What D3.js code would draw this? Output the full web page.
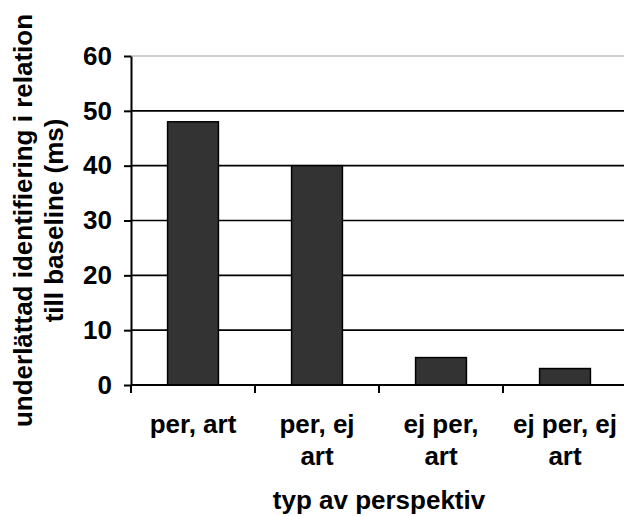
<!DOCTYPE html>
<html>
<head>
<meta charset="utf-8">
<script src="https://cdn.jsdelivr.net/npm/d3@7"></script>
<style>
  body { margin: 0; background: #fff; }
  svg { display: block; font-family: Arial, "Liberation Sans", sans-serif; }
</style>
</head>
<body>
<div id="chart"></div>
<script>
// données
const categories = ["per, art", "per, ej art", "ej per, art", "ej per, ej art"];
const categoryLines = [["per, art"], ["per, ej", "art"], ["ej per,", "art"], ["ej per, ej", "art"]];
const values = [48, 40, 5, 3];
const yTicks = [0, 10, 20, 30, 40, 50, 60];
const yTitle = ["underlättad identifiering i relation", "till baseline (ms)"];
const xTitle = "typ av perspektiv";

const width = 624;
const height = 516;
const margin = { top: 56, right: -3, bottom: 131, left: 131 };
const fontSize = 26;

const svg = d3.select("#chart")
    .append("svg")
    .attr("width", width)
    .attr("height", height);

// échelles
const x = d3.scaleBand()
    .domain(categories)
    .range([margin.left, width - margin.right])
    .paddingInner(0.59)
    .paddingOuter(0.295);

const y = d3.scaleLinear()
    .domain([0, 60])
    .range([height - margin.bottom, margin.top]);

const step = x.step();
const gap = (step - x.bandwidth()) / 2;

// lignes horizontales
svg.append("g")
    .selectAll("line")
    .data(yTicks.filter(d => d > 0))
    .join("line")
    .attr("x1", margin.left)
    .attr("x2", width - margin.right)
    .attr("y1", d => y(d))
    .attr("y2", d => y(d))
    .attr("stroke", d => d === 60 ? "#c0c0c0" : "#000")
    .attr("stroke-width", d => d === 60 ? 1.5 : 1.6);

// barres
svg.append("g")
    .selectAll("rect")
    .data(values)
    .join("rect")
    .attr("x", (d, i) => x(categories[i]))
    .attr("y", d => y(d))
    .attr("width", x.bandwidth())
    .attr("height", d => y(0) - y(d))
    .attr("fill", "#333333")
    .attr("stroke", "#000")
    .attr("stroke-width", 1.5);

// axe Y
const yAxis = svg.append("g")
    .attr("transform", `translate(${margin.left}, 0)`)
    .call(d3.axisLeft(y).tickValues(yTicks).tickSize(7).tickSizeOuter(0).tickPadding(12));
yAxis.select(".domain").attr("stroke-width", 2);
yAxis.selectAll(".tick line").attr("stroke-width", 2);
yAxis.selectAll("text")
    .attr("font-size", fontSize)
    .attr("font-weight", "bold")
    .attr("font-family", "Arial, 'Liberation Sans', sans-serif")
    .attr("fill", "#000");

// axe X
svg.append("line")
    .attr("x1", margin.left)
    .attr("x2", width - margin.right)
    .attr("y1", y(0))
    .attr("y2", y(0))
    .attr("stroke", "#000")
    .attr("stroke-width", 2);

const xTickPos = categories.map(c => x(c) - gap).concat([x(categories[categories.length - 1]) + x.bandwidth() + gap]);
svg.append("g")
    .selectAll("line")
    .data(xTickPos)
    .join("line")
    .attr("x1", d => d)
    .attr("x2", d => d)
    .attr("y1", y(0))
    .attr("y2", y(0) + 8)
    .attr("stroke", "#000")
    .attr("stroke-width", 2);

// étiquettes des catégories
const labels = svg.append("g")
    .selectAll("text")
    .data(categories)
    .join("text")
    .attr("text-anchor", "middle")
    .attr("font-size", fontSize)
    .attr("font-weight", "bold")
    .attr("fill", "#000");

labels.selectAll("tspan")
    .data((d, i) => categoryLines[i].map(l => ({ l, c: d })))
    .join("tspan")
    .attr("x", d => x(d.c) + x.bandwidth() / 2)
    .attr("y", (d, j) => 433 + j * 32)
    .text(d => d.l);

// titre axe X
svg.append("text")
    .attr("x", (margin.left + width - margin.right) / 2)
    .attr("y", 509)
    .attr("text-anchor", "middle")
    .attr("font-size", fontSize)
    .attr("font-weight", "bold")
    .text(xTitle);

// titre axe Y
const cy = (y(0) + y(60)) / 2;
svg.append("text")
    .attr("transform", `translate(0, ${cy}) rotate(-90)`)
    .attr("text-anchor", "middle")
    .attr("font-size", fontSize)
    .attr("font-weight", "bold")
    .selectAll("tspan")
    .data(yTitle)
    .join("tspan")
    .attr("x", 0)
    .attr("y", (d, i) => 32 + i * 31)
    .text(d => d);
</script>
</body>
</html>
